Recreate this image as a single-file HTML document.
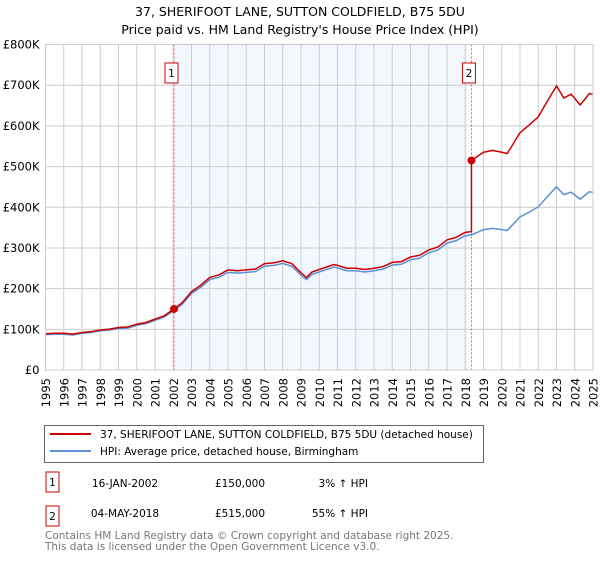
<!DOCTYPE html>
<html><head><meta charset="utf-8"><style>
body{margin:0;background:#fff;font-family:"DejaVu Sans","Liberation Sans",sans-serif;}
svg text{font-family:"DejaVu Sans","Liberation Sans",sans-serif;}
</style></head><body>
<svg id="chart" width="600" height="560" viewBox="0 0 600 560" xmlns="http://www.w3.org/2000/svg">
<text x="300" y="16" text-anchor="middle" font-size="12.5" fill="#000">37, SHERIFOOT LANE, SUTTON COLDFIELD, B75 5DU</text>
<text x="300" y="34" text-anchor="middle" font-size="12.5" fill="#000">Price paid vs. HM Land Registry's House Price Index (HPI)</text>
<g id="plot"></g>
<g>
<rect x="44.5" y="425.5" width="439" height="37" fill="#fff" stroke="#666"/>
<line x1="50" y1="434" x2="91" y2="434" stroke="#cc0000" stroke-width="2"/>
<text x="100" y="438" font-size="10.5">37, SHERIFOOT LANE, SUTTON COLDFIELD, B75 5DU (detached house)</text>
<line x1="50" y1="451" x2="91" y2="451" stroke="#5b8fd6" stroke-width="2"/>
<text x="100" y="455" font-size="10.5">HPI: Average price, detached house, Birmingham</text>
</g>
<g font-size="10.5">
<rect x="46" y="472" width="13" height="20" fill="#fff" stroke="#cc0000"/><text x="52.5" y="486" text-anchor="middle">1</text>
<text x="125" y="487" text-anchor="middle">16-JAN-2002</text><text x="240" y="487" text-anchor="middle">£150,000</text><text x="368" y="487" text-anchor="end">3% ↑ HPI</text>
<rect x="46" y="506" width="13" height="20" fill="#fff" stroke="#cc0000"/><text x="52.5" y="520" text-anchor="middle">2</text>
<text x="125" y="517" text-anchor="middle">04-MAY-2018</text><text x="240" y="517" text-anchor="middle">£515,000</text><text x="368" y="517" text-anchor="end">55% ↑ HPI</text>
</g>
<text x="45" y="539" font-size="10.5" fill="#777">Contains HM Land Registry data © Crown copyright and database right 2025.</text>
<text x="45" y="550" font-size="10.5" fill="#777">This data is licensed under the Open Government Licence v3.0.</text>
</svg>
<script>
const hpiYears=[1995,1995.5,1996,1996.5,1997,1997.5,1998,1998.5,1999,1999.5,2000,2000.5,2001,2001.5,2002,2002.5,2003,2003.5,2004,2004.5,2005,2005.5,2006,2006.5,2007,2007.5,2008,2008.5,2009,2009.3,2009.6,2010,2010.8,2011,2011.5,2012,2012.5,2013,2013.5,2014,2014.5,2015,2015.5,2016,2016.5,2017,2017.5,2018,2018.34,2019,2019.5,2020,2020.3,2021,2021.5,2022,2022.5,2023,2023.4,2023.8,2024.3,2024.8,2025];
const hpiValues=[87,88,88,86,90,92,96,98,102,103,110,114,122,130,145,162,188,203,222,228,240,238,240,242,255,257,262,255,233,222,235,241,253,251,244,244,241,244,248,258,260,271,275,288,295,312,318,330,332,345,348,345,343,376,388,401,426,450,431,437,420,438,437];
const saleYears=[2002.04,2018.34];
const saleValues=[150,515];
const saleLabels=["1","2"];
const yTicks=[0,100,200,300,400,500,600,700,800];
const yTickLabels=["£0","£100K","£200K","£300K","£400K","£500K","£600K","£700K","£800K"];
const xTicks=[1995,1996,1997,1998,1999,2000,2001,2002,2003,2004,2005,2006,2007,2008,2009,2010,2011,2012,2013,2014,2015,2016,2017,2018,2019,2020,2021,2022,2023,2024,2025];

const X0=45.5,X1=593,Y0=370,Y1=44.5;
const xs=y=>X0+(y-1995)/(2025-1995)*(X1-X0);
const ys=v=>Y0-v/800*(Y0-Y1);
const NS="http://www.w3.org/2000/svg";
const g=document.getElementById('plot');
function mk(t,a){const e=document.createElementNS(NS,t);for(const k in a)e.setAttribute(k,a[k]);g.appendChild(e);return e;}
const bg=mk('rect',{x:X0,y:Y1,width:X1-X0,height:Y0-Y1,fill:'#fff'});


const sh=mk('rect',{x:xs(saleYears[0]),y:Y1,width:xs(2018.1)-xs(saleYears[0]),height:Y0-Y1,fill:'#eef3fd',opacity:0.7});


xTicks.forEach(t=>{const l=mk('line',{x1:xs(t),x2:xs(t),y1:Y1,y2:Y0,stroke:'#ccc','stroke-width':1});


const tx=mk('text',{x:0,y:0,'font-size':11.5,'text-anchor':'end',transform:`translate(${xs(t)+4.5},${Y0+8}) rotate(-90)`});tx.textContent=t;

});
yTicks.forEach((t,i)=>{const l=mk('line',{x1:X0,x2:X1,y1:ys(t),y2:ys(t),stroke:'#ccc','stroke-width':1});


const tx=mk('text',{x:X0-6,y:ys(t)+4,'font-size':11.5,'text-anchor':'end'});tx.textContent=yTickLabels[i];

});
saleYears.forEach((s,i)=>{const l=mk('line',{x1:xs(s),x2:xs(s),y1:Y1,y2:Y0,stroke:'#e06060','stroke-width':1,'stroke-dasharray':'2,2'});


const b=mk('rect',{x:xs(s)-9,y:63,width:13,height:20,fill:'#fff',stroke:'#cc0000'});


const tx=mk('text',{x:xs(s)-2.5,y:77,'font-size':10.5,'text-anchor':'middle'});tx.textContent=saleLabels[i];

});
function interp(y){for(let i=0;i<hpiYears.length-1;i++){if(y<=hpiYears[i+1]){const f=(y-hpiYears[i])/(hpiYears[i+1]-hpiYears[i]);return hpiValues[i]+f*(hpiValues[i+1]-hpiValues[i]);}}return hpiValues[hpiValues.length-1];}
const hp=mk('polyline',{points:hpiYears.map((y,i)=>xs(y)+','+ys(hpiValues[i])).join(' '),fill:'none',stroke:'#5b8fd6','stroke-width':1.5});


const r1=saleValues[0]/interp(saleYears[0]),r2=saleValues[1]/interp(saleYears[1]);
const pts=[];
hpiYears.forEach((y,i)=>{if(y<saleYears[1])pts.push([y,hpiValues[i]*r1]);});
pts.push([saleYears[1],interp(saleYears[1])*r1]);
pts.push([saleYears[1],saleValues[1]]);
hpiYears.forEach((y,i)=>{if(y>saleYears[1])pts.push([y,hpiValues[i]*r2]);});
const pp=mk('polyline',{points:pts.map(p=>xs(p[0])+','+ys(p[1])).join(' '),fill:'none',stroke:'#cc0000','stroke-width':1.5});


saleYears.forEach((s,i)=>{const c=mk('circle',{cx:xs(s),cy:ys(saleValues[i]),r:4,fill:'#cc0000'});

});
const fr=mk('rect',{x:X0,y:Y1,width:X1-X0,height:Y0-Y1,fill:'none',stroke:'#ccc'});


</script>
</body></html>
